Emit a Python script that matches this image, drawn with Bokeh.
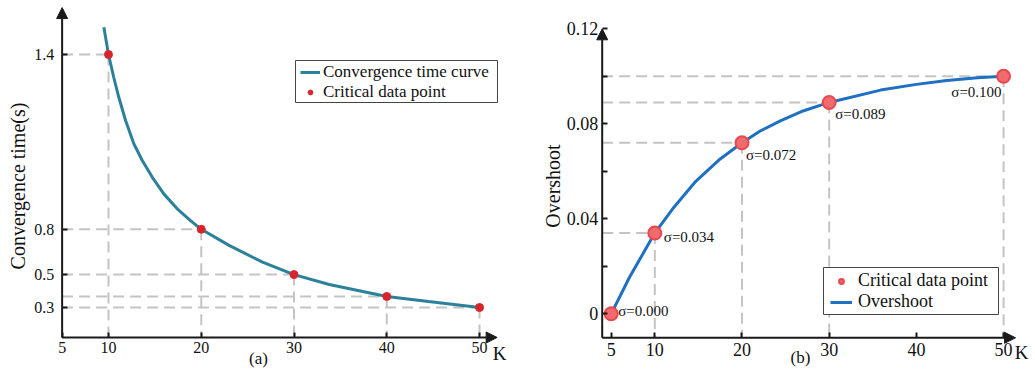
from bokeh.plotting import figure
from bokeh.layouts import row
from bokeh.models import (FixedTicker, Arrow, NormalHead, Label, Legend, LegendItem,
                          ColumnDataSource, BoxAnnotation)
from bokeh.embed import file_html
from bokeh.resources import INLINE
from bokeh.core.properties import value

# ---------------- data: panel (a) ----------------
k_points = [10, 20, 30, 40, 50]
conv_time = [1.400, 0.640, 0.443, 0.348, 0.300]
conv_curve_k = [9.5, 10, 10.57, 11.11, 11.84, 12.73, 13.64, 14.71, 15.96, 17.41, 18.84, 20,
                23, 26.6, 30, 33.8, 40, 44.5, 50]
conv_curve_t = [1.519, 1.400, 1.300, 1.214, 1.113, 1.012, 0.939, 0.867, 0.794, 0.729, 0.678, 0.640,
                0.570, 0.497, 0.443, 0.400, 0.348, 0.326, 0.300]
ya_tick_vals = [1.400, 0.640, 0.443, 0.300]
ya_tick_labels = ["1.4", "0.8", "0.5", "0.3"]
xa_ticks = [5, 10, 20, 30, 40, 50]

# ---------------- data: panel (b) ----------------
k_b = [5, 10, 20, 30, 50]
sigma = [0.000, 0.034, 0.072, 0.089, 0.100]
over_curve_k = [5, 7.1, 10, 12.2, 14.7, 17.5, 20, 22, 24.4, 27, 30, 35.9, 40, 43.5, 47, 50]
over_curve_s = [0.0, 0.0154, 0.034, 0.0449, 0.0558, 0.0652, 0.072, 0.0768, 0.0812, 0.0854, 0.089,
                0.0942, 0.0966, 0.0982, 0.0994, 0.100]
yb_ticks = [0, 0.04, 0.08, 0.12]
yb_minor = [0.02, 0.06, 0.10]
yb_labels = ["0", "0.04", "0.08", "0.12"]
xb_ticks = [5, 10, 20, 30, 40, 50]

SERIF = "Liberation Serif"
AXC = "#1a1a1a"
TXT = "#111111"
DASH_C = "#c4c4c4"
H = 371


def style_axes(p, x_at, y_at, tick_fs):
    p.xaxis.fixed_location = y_at
    p.yaxis.fixed_location = x_at
    for ax in (p.xaxis[0], p.yaxis[0]):
        ax.axis_line_color = None
        ax.major_tick_in = 5
        ax.major_tick_out = 0
        ax.minor_tick_in = 5
        ax.minor_tick_out = 0
        ax.major_tick_line_width = 2
        ax.minor_tick_line_width = 2
        ax.major_tick_line_color = AXC
        ax.minor_tick_line_color = AXC
        ax.major_label_text_font = SERIF
        ax.major_label_text_font_size = tick_fs
        ax.major_label_text_color = TXT
        ax.axis_label_text_font = SERIF
        ax.axis_label_text_font_style = "normal"
        ax.axis_label_text_color = TXT
    p.grid.visible = False
    p.outline_line_color = None


def axis_arrows(p, x0, y0, x1, y1):
    for xe, ye in ((x0, y1), (x1, y0)):
        p.add_layout(Arrow(end=NormalHead(size=11, fill_color=AXC, line_color=AXC),
                           x_start=x0, y_start=y0, x_end=xe, y_end=ye,
                           line_width=2, line_color=AXC))


def add_label(p, x, y, text, size):
    p.add_layout(Label(x=x, y=y, x_units="screen", y_units="screen", text=text,
                       text_font=SERIF, text_font_size=size, text_align="center",
                       text_baseline="middle", text_color=TXT))


def legend_block(p, box, entries, fs, gw, standoff):
    """box = (left, right, bottom, top) in screen px; entries = [(label, renderer, (x, y))]"""
    l, r, b, t = box
    p.add_layout(BoxAnnotation(left=l, right=r, bottom=b, top=t,
                               left_units="screen", right_units="screen",
                               bottom_units="screen", top_units="screen",
                               fill_color="white", fill_alpha=1,
                               line_color="#444444", line_width=1, line_alpha=1))
    for label, rend, loc in entries:
        lg = Legend(items=[LegendItem(label=label, renderers=[rend])], location=loc)
        lg.label_text_font = SERIF
        lg.label_text_font_size = fs
        lg.label_text_color = TXT
        lg.border_line_color = None
        lg.background_fill_alpha = 0
        lg.padding = 0
        lg.spacing = 0
        lg.margin = 0
        lg.glyph_width = gw
        lg.glyph_height = 12
        lg.label_height = 12
        lg.label_standoff = standoff
        p.add_layout(lg)


# ================= panel (a) =================
xa0 = 5.0          # y axis location
ya0 = 0.1696       # x axis location
xa_tip, ya_tip = 51.9, 1.604
pa = figure(width=510, height=H, x_range=(-1.644, 53.34), y_range=(0.0217, 1.6348),
            output_backend="svg", toolbar_location=None,
            min_border_left=0, min_border_right=0, min_border_top=0, min_border_bottom=0)
style_axes(pa, xa0, ya0, "16px")
pa.xaxis.ticker = FixedTicker(ticks=xa_ticks, minor_ticks=[])
pa.yaxis.ticker = FixedTicker(ticks=ya_tick_vals, minor_ticks=[])
pa.yaxis.major_label_overrides = {v: l for v, l in zip(ya_tick_vals, ya_tick_labels)}
pa.yaxis.axis_label = "Convergence time(s)"
pa.yaxis.axis_label_text_font_size = "20px"
pa.yaxis.axis_label_standoff = 3
pa.yaxis.major_label_standoff = 8
pa.xaxis.major_label_standoff = 5

n = len(k_points)
pa.segment(x0=[xa0] * n, y0=conv_time, x1=k_points, y1=conv_time,
           line_color=DASH_C, line_width=2, line_dash="11 6")
pa.segment(x0=k_points, y0=conv_time, x1=k_points, y1=[ya0] * n,
           line_color=DASH_C, line_width=2, line_dash="11 6")
curve_a = pa.line(conv_curve_k, conv_curve_t, line_color="#2b8199", line_width=3)
pts_a = pa.scatter(k_points, conv_time, size=8, fill_color="#d7262b", line_color="#d7262b")
axis_arrows(pa, xa0, ya0, xa_tip, ya_tip)

legend_block(pa, (295, 497, 269, 311),
             [("Convergence time curve", curve_a, (300, 289)),
              ("Critical data point", pts_a, (300, 269))],
             "17px", 20, 3)
add_label(pa, 499, 18, "K", "19px")
add_label(pa, 258, 13, "(a)", "17px")

# ================= panel (b) =================
xb0 = 3.968        # y axis location
yb0 = -0.0101      # x axis location
xb_tip, yb_tip = 51.37, 0.12
pb = figure(width=525, height=H, x_range=(-6.548, 53.66), y_range=(-0.02429, 0.13192),
            output_backend="svg", toolbar_location=None,
            min_border_left=0, min_border_right=0, min_border_top=0, min_border_bottom=0)
style_axes(pb, xb0, yb0, "18px")
pb.xaxis.ticker = FixedTicker(ticks=xb_ticks, minor_ticks=[])
pb.yaxis.ticker = FixedTicker(ticks=yb_ticks, minor_ticks=yb_minor)
pb.yaxis.major_label_overrides = {v: l for v, l in zip(yb_ticks, yb_labels)}
pb.yaxis.axis_label = "Overshoot"
pb.yaxis.axis_label_text_font_size = "20px"
pb.yaxis.axis_label_standoff = 0
pb.yaxis.major_label_standoff = 4
pb.xaxis.major_label_standoff = 5

kb_d = k_b[1:]
sg_d = sigma[1:]
m = len(kb_d)
pb.segment(x0=[xb0] * m, y0=sg_d, x1=kb_d, y1=sg_d,
           line_color=DASH_C, line_width=2, line_dash="11 6")
pb.segment(x0=kb_d, y0=sg_d, x1=kb_d, y1=[yb0] * m,
           line_color=DASH_C, line_width=2, line_dash="11 6")
curve_b = pb.line(over_curve_k, over_curve_s, line_color="#1f70c1", line_width=3)
pts_b = pb.scatter(k_b, sigma, size=13, fill_color="#f06b6e", line_color="#e8484e", line_width=2)

lab_src = ColumnDataSource(dict(
    x=k_b, y=sigma, text=["σ=%.3f" % s for s in sigma],
    dx=[7, 9, 4, 6, -2], dy=[-3, 4, 12, 12, 16],
    align=["left", "left", "left", "left", "right"]))
pb.text(x="x", y="y", text="text", x_offset="dx", y_offset="dy", text_align="align",
        text_baseline="middle", text_font=value(SERIF), text_font_size="15px",
        text_color=TXT, source=lab_src)
axis_arrows(pb, xb0, yb0, xb_tip, yb_tip)

legend_block(pb, (313, 488, 57, 104),
             [("Critical data point", pts_b, (320, 80)),
              ("Overshoot", curve_b, (320, 59))],
             "18px", 22, 6)
add_label(pb, 511, 19, "K", "19px")
add_label(pb, 290, 14, "(b)", "17px")

layout = row(pa, pb, spacing=0)
open("out.html", "w").write(file_html(layout, INLINE))
